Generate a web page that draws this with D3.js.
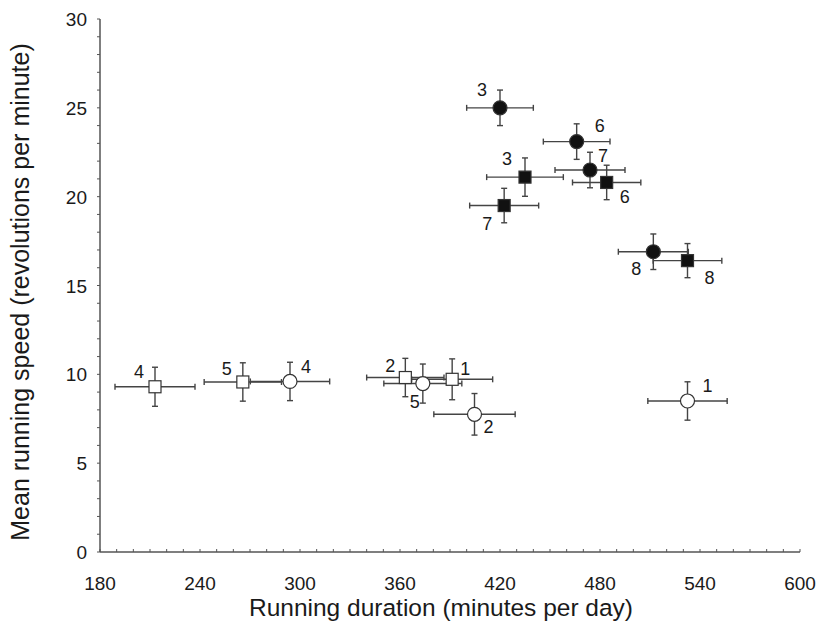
<!DOCTYPE html>
<html>
<head>
<meta charset="utf-8">
<script src="https://cdn.jsdelivr.net/npm/d3@7"></script>
<style>
  body { margin: 0; background: #fff; }
  text { font-family: "Liberation Sans", Arial, sans-serif; fill: #1a1a1a; }
</style>
</head>
<body>
<div id="chart"></div>
<script>
// data: [label, duration, duration err, speed, speed err]
const filledCircles = [
  ["3", 420, 20, 25.0, 1.0],
  ["6", 466, 20, 23.1, 1.0],
  ["7", 474, 21, 21.5, 1.0],
  ["8", 512, 21, 16.9, 1.0]
];
const filledSquares = [
  ["3", 435, 23, 21.1, 1.08],
  ["6", 484, 20.5, 20.8, 0.97],
  ["7", 422.5, 20.7, 19.5, 0.97],
  ["8", 532.5, 20.6, 16.4, 0.96]
];
const openCircles = [
  ["4", 294, 23.8, 9.6, 1.08],
  ["1", 532.5, 23.8, 8.5, 1.08],
  ["5", 373.7, 23.4, 9.48, 1.1],
  ["2", 404.7, 24.4, 7.75, 1.17]
];
const openSquares = [
  ["4", 213, 24, 9.3, 1.1],
  ["5", 265.7, 23.2, 9.57, 1.08],
  ["2", 363.2, 23.2, 9.82, 1.08],
  ["1", 391.3, 24.3, 9.72, 1.15]
];

const xTicks = [180, 240, 300, 360, 420, 480, 540, 600];
const yTicks = [0, 5, 10, 15, 20, 25, 30];

// label placement (px offsets from the marker)
const labelOffsets = {
  fc: [[-18, -18], [23, -16], [13, -14], [-17, 17]],
  fs: [[-18, -18], [18, 15], [-17, 18], [22, 17]],
  oc: [[16, -14], [20, -15], [-8, 18], [14, 13]],
  os: [[-16, -15], [-16, -13], [-15, -12], [13, -10]]
};

const WIDTH = 817, HEIGHT = 632;
const svg = d3.select("#chart").append("svg")
  .attr("width", WIDTH).attr("height", HEIGHT);

const x = d3.scaleLinear().domain([180, 600]).range([100, 800]);
const y = d3.scaleLinear().domain([0, 30]).range([552, 19]);

const axisColor = "#555";

// x axis: line + minor ticks every 10 min pointing up
svg.append("line")
  .attr("x1", x(180)).attr("x2", x(600))
  .attr("y1", y(0)).attr("y2", y(0))
  .attr("stroke", axisColor).attr("stroke-width", 1.5);
svg.append("g").selectAll("line")
  .data(d3.range(180, 601, 10))
  .join("line")
  .attr("x1", d => x(d)).attr("x2", d => x(d))
  .attr("y1", y(0)).attr("y2", y(0) - 3)
  .attr("stroke", axisColor).attr("stroke-width", 1);
svg.append("g").selectAll("text")
  .data(xTicks)
  .join("text")
  .attr("x", d => x(d)).attr("y", y(0) + 38)
  .attr("text-anchor", "middle")
  .attr("font-size", 19)
  .text(d => d);

// y axis: line + ticks every 1 unit pointing left
svg.append("line")
  .attr("x1", x(180)).attr("x2", x(180))
  .attr("y1", y(0)).attr("y2", y(30))
  .attr("stroke", axisColor).attr("stroke-width", 1.5);
svg.append("g").selectAll("line")
  .data(d3.range(0, 31, 1))
  .join("line")
  .attr("x1", x(180)).attr("x2", x(180) - 3)
  .attr("y1", d => y(d)).attr("y2", d => y(d))
  .attr("stroke", axisColor).attr("stroke-width", 1);
svg.append("g").selectAll("text")
  .data(yTicks)
  .join("text")
  .attr("x", x(180) - 13).attr("y", d => y(d) + 7)
  .attr("text-anchor", "end")
  .attr("font-size", 19)
  .text(d => d);

// axis titles
svg.append("text")
  .attr("x", 441).attr("y", 616)
  .attr("text-anchor", "middle")
  .attr("font-size", 24.5)
  .text("Running duration (minutes per day)");
svg.append("text")
  .attr("transform", "translate(29,292) rotate(-90)")
  .attr("text-anchor", "middle")
  .attr("font-size", 25)
  .text("Mean running speed (revolutions per minute)");

const series = [
  {rows: openSquares, shape: "square", fill: "#fff", off: labelOffsets.os},
  {rows: openCircles, shape: "circle", fill: "#fff", off: labelOffsets.oc},
  {rows: filledSquares, shape: "square", fill: "#111", off: labelOffsets.fs},
  {rows: filledCircles, shape: "circle", fill: "#111", off: labelOffsets.fc}
];

const barColor = "#444";
const cap = 3;

// error bars first
const bars = svg.append("g").attr("stroke", barColor).attr("stroke-width", 1.4);
series.forEach(s => {
  s.rows.forEach(r => {
    const cx = x(r[1]), cy = y(r[3]);
    const xl = x(r[1] - r[2]), xr = x(r[1] + r[2]);
    const yt = y(r[3] + r[4]), yb = y(r[3] - r[4]);
    bars.append("line").attr("x1", xl).attr("x2", xr).attr("y1", cy).attr("y2", cy);
    bars.append("line").attr("x1", cx).attr("x2", cx).attr("y1", yt).attr("y2", yb);
    bars.append("line").attr("x1", xl).attr("x2", xl).attr("y1", cy - cap).attr("y2", cy + cap);
    bars.append("line").attr("x1", xr).attr("x2", xr).attr("y1", cy - cap).attr("y2", cy + cap);
    bars.append("line").attr("x1", cx - cap).attr("x2", cx + cap).attr("y1", yt).attr("y2", yt);
    bars.append("line").attr("x1", cx - cap).attr("x2", cx + cap).attr("y1", yb).attr("y2", yb);
  });
});

// markers and labels
series.forEach(s => {
  const g = svg.append("g");
  s.rows.forEach((r, i) => {
    const cx = x(r[1]), cy = y(r[3]);
    if (s.shape === "circle") {
      g.append("circle").attr("cx", cx).attr("cy", cy).attr("r", 7)
        .attr("fill", s.fill).attr("stroke", "#333").attr("stroke-width", 1.2);
    } else {
      g.append("rect").attr("x", cx - 6).attr("y", cy - 6)
        .attr("width", 12).attr("height", 12)
        .attr("fill", s.fill).attr("stroke", "#333").attr("stroke-width", 1.2);
    }
    g.append("text")
      .attr("x", cx + s.off[i][0]).attr("y", cy + s.off[i][1] + 6)
      .attr("text-anchor", "middle")
      .attr("font-size", 18)
      .text(r[0]);
  });
});
</script>
</body>
</html>
